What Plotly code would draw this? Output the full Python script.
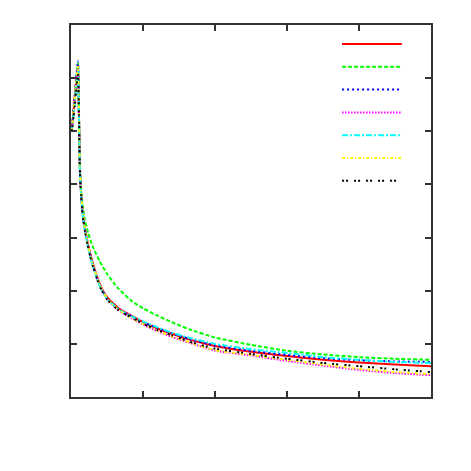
import plotly.graph_objects as go

x = [0.01, 0.05, 0.097, 0.11, 0.125, 0.14, 0.16, 0.19, 0.24, 0.3, 0.4, 0.5, 0.65, 0.85,
     1.0, 1.2, 1.4, 1.65, 2.0, 2.5, 3.0, 3.5, 4.0, 4.5, 5.0]

red = [5.0, 5.6, 6.25, 5.35, 4.25, 3.85, 3.5, 3.2, 2.85, 2.53, 2.13, 1.88, 1.68, 1.52,
       1.41, 1.29, 1.19, 1.08, 0.96, 0.85, 0.77, 0.70, 0.65, 0.61, 0.58]
green = [5.0, 5.6, 6.28, 5.4, 4.3, 3.92, 3.62, 3.35, 3.08, 2.84, 2.55, 2.32, 2.05, 1.8,
         1.67, 1.53, 1.41, 1.27, 1.12, 0.98, 0.87, 0.80, 0.75, 0.72, 0.70]
blue = [5.0, 5.65, 6.32, 5.35, 4.22, 3.82, 3.47, 3.17, 2.82, 2.5, 2.1, 1.86, 1.66, 1.51,
        1.41, 1.3, 1.2, 1.09, 0.97, 0.87, 0.79, 0.73, 0.69, 0.67, 0.66]
magenta = [5.0, 5.6, 6.2, 5.33, 4.23, 3.83, 3.48, 3.18, 2.83, 2.5, 2.1, 1.85, 1.64, 1.48,
           1.36, 1.24, 1.13, 1.02, 0.87, 0.78, 0.68, 0.59, 0.51, 0.45, 0.41]
cyan = [5.0, 5.5, 6.15, 5.3, 4.2, 3.8, 3.45, 3.15, 2.8, 2.48, 2.09, 1.85, 1.66, 1.51,
        1.42, 1.31, 1.21, 1.11, 1.00, 0.90, 0.83, 0.75, 0.70, 0.66, 0.64]
yellow = [5.0, 5.6, 6.22, 5.35, 4.25, 3.85, 3.5, 3.2, 2.84, 2.51, 2.11, 1.86, 1.65, 1.48,
          1.37, 1.25, 1.14, 1.03, 0.88, 0.79, 0.70, 0.61, 0.53, 0.47, 0.43]
black = [5.0, 5.45, 6.1, 5.3, 4.2, 3.8, 3.45, 3.15, 2.8, 2.48, 2.08, 1.84, 1.64, 1.49,
         1.38, 1.26, 1.16, 1.04, 0.91, 0.81, 0.72, 0.64, 0.58, 0.52, 0.47]

series = [
    (red, "#ff0000", "solid"),
    (green, "#00ff00", "4px,2px"),
    (blue, "#0000ff", "2px,3px"),
    (magenta, "#ff00ff", "1.5px,1.5px"),
    (cyan, "#00ffff", "6px,2px,2px,2px"),
    (yellow, "#ffff00", "3px,2px,1px,2px"),
    (black, "#000000", "2px,2px,2px,6px"),
]

fig = go.Figure()
shapes = []
for i, (ys, col, dash) in enumerate(series):
    fig.add_trace(go.Scatter(x=x, y=ys, mode="lines",
                             line=dict(color=col, width=2, dash=dash,
                                       shape="spline", smoothing=0.5),
                             showlegend=False))
    yp = 0.949 - i * 0.0613
    shapes.append(dict(type="line", xref="paper", yref="paper",
                       x0=0.753, x1=0.919, y0=yp, y1=yp,
                       line=dict(color=col, width=2, dash=dash)))

axis_common = dict(showticklabels=False, ticks="inside", ticklen=6, tickwidth=1.5,
                   tickcolor="#333333", showline=True, linecolor="#333333",
                   linewidth=2, mirror="allticks", showgrid=False, zeroline=False)

fig.update_layout(
    width=471, height=471,
    margin=dict(l=71, r=40, t=25, b=74),
    paper_bgcolor="white", plot_bgcolor="white",
    xaxis=dict(range=[0, 5], dtick=1, **axis_common),
    yaxis=dict(range=[0, 7], dtick=1, **axis_common),
    shapes=shapes,
)

fig.write_html("out.html")
